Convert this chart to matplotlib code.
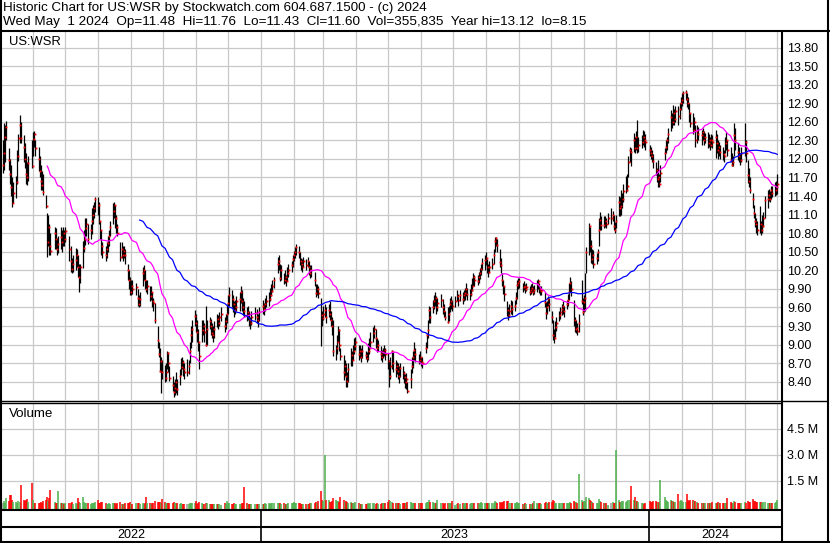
import numpy as np
import pandas as pd
import matplotlib
matplotlib.use("Agg")
import matplotlib.pyplot as plt
import matplotlib.dates as mdates
from matplotlib.lines import Line2D

# ---- data (one line per week, holidays removed) ----
holidays = ["2022-05-30", "2022-06-20", "2022-07-04", "2022-09-05", "2022-11-24", "2022-12-26",
            "2023-01-02", "2023-01-16", "2023-02-20", "2023-04-07", "2023-05-29", "2023-06-19",
            "2023-07-04", "2023-09-04", "2023-11-23", "2023-12-25", "2024-01-01", "2024-01-15",
            "2024-02-19", "2024-03-29"]

closes = [
    11.90, 12.10, 12.35, 12.52,
    11.98, 11.75, 11.55, 11.29, 11.45,
    11.62, 12.05, 12.34, 12.55, 12.34,
    12.20, 12.00, 11.75, 11.70, 11.93,
    11.88, 12.32, 12.40, 12.18,
    12.00, 11.80, 11.64, 11.58, 11.47,
    11.24, 10.65, 10.90, 10.60, 10.52,
    10.81, 10.70, 10.55, 10.62,
    10.74, 10.65, 10.80, 10.70, 10.83,
    10.55, 10.35, 10.22, 10.30,
    10.36, 10.45, 10.25, 10.10, 10.25,
    10.56, 10.70, 10.88, 10.95, 10.71,
    10.85, 10.99, 11.10, 11.20, 11.35,
    11.25, 10.99, 10.85, 10.60, 10.49,
    10.44, 10.55, 10.64, 10.75, 10.90,
    11.16, 11.25, 11.05, 10.90, 10.81,
    10.42, 10.55, 10.44, 10.52, 10.45,
    10.20, 10.05, 9.85, 9.95, 9.90,
    9.93, 9.75, 9.65, 9.74,
    10.15, 10.20, 10.05, 9.90, 9.95,
    9.78, 9.85, 9.70, 9.67, 9.40,
    9.08, 8.85, 8.58, 8.74, 8.55,
    8.46, 8.55, 8.86, 8.70, 8.46,
    8.35, 8.23, 8.30, 8.40, 8.28,
    8.50, 8.64, 8.72, 8.60, 8.55,
    8.55, 8.65, 8.90, 9.15, 9.25,
    9.47, 9.35, 9.20, 9.05, 8.82,
    9.24, 9.30, 9.20, 9.00, 9.25,
    9.38, 9.30, 9.18, 9.15, 9.25,
    9.41, 9.35, 9.44, 9.50,
    9.30, 9.38, 9.50, 9.67, 9.80,
    9.74, 9.65, 9.56, 9.60, 9.70,
    9.74, 9.85, 9.70, 9.60, 9.55,
    9.48, 9.52, 9.40, 9.35, 9.45,
    9.51, 9.45, 9.40, 9.52,
    9.62, 9.58, 9.65, 9.70,
    9.74, 9.80, 9.87, 9.95, 10.04,
    10.31, 10.35, 10.07, 10.20,
    10.04, 10.10, 10.02, 10.15, 10.21,
    10.28, 10.39, 10.45, 10.50, 10.58,
    10.49, 10.35, 10.30, 10.25, 10.35,
    10.29, 10.35, 10.25, 10.16, 10.20,
    10.05, 9.84, 9.90, 9.84,
    9.48, 9.43, 9.50, 9.56, 9.45,
    9.56, 9.50, 9.40, 9.30, 8.89,
    8.95, 9.05, 9.24, 9.00, 8.82,
    8.56, 8.65, 8.50, 8.42, 8.60,
    8.83, 8.75, 8.90, 8.98, 9.05,
    8.85, 8.90, 8.80, 8.90,
    8.83, 8.78, 8.89, 8.95, 9.05,
    9.18, 9.25, 9.10, 8.95, 9.00,
    8.85, 8.80, 8.88, 8.92, 8.85,
    8.73, 8.50, 8.65, 8.89, 8.70,
    8.60, 8.65, 8.58, 8.50, 8.62,
    8.54, 8.48, 8.40, 8.45, 8.25,
    8.45, 8.66, 8.80, 8.91, 8.85,
    8.75, 8.80, 8.72, 8.70,
    8.95, 9.15, 9.24, 9.56, 9.45,
    9.60, 9.70, 9.75, 9.60, 9.67,
    9.72, 9.60, 9.55, 9.45,
    9.37, 9.50, 9.65, 9.70, 9.62,
    9.70, 9.79, 9.72, 9.80,
    9.74, 9.80, 9.83, 9.90, 9.81,
    9.81, 9.88, 9.95, 10.10, 10.04,
    10.02, 10.10, 10.16, 10.22, 10.32,
    10.36, 10.40, 10.25, 10.18, 10.25,
    10.31, 10.45, 10.68, 10.72, 10.61,
    10.34, 10.28, 10.05, 9.95, 9.82,
    9.56, 9.48, 9.55, 9.62, 9.58,
    9.62, 9.75, 9.96, 10.00, 10.02,
    9.93, 9.95, 9.90, 9.93,
    9.85, 9.88, 9.92, 9.85, 9.88,
    9.98, 10.02, 9.90, 9.86, 9.88,
    9.69, 9.51, 9.60, 9.73, 9.65,
    9.45, 9.15, 9.10, 9.29, 9.35,
    9.48, 9.52, 9.57, 9.62, 9.55,
    9.66, 9.72, 9.85, 10.00, 9.90,
    9.40, 9.26, 9.27, 9.22, 9.35,
    9.71, 9.53, 9.69, 9.75, 10.49,
    10.91, 10.60, 10.39, 10.45, 10.30,
    10.40, 10.49, 10.85, 11.01, 10.94,
    10.93, 11.00, 10.95, 11.05,
    11.05, 11.10, 10.91, 10.85, 11.00,
    11.31, 11.20, 11.24, 11.35, 11.48,
    11.50, 11.57, 11.95, 12.15, 12.12,
    12.31, 12.18, 12.35, 12.17, 12.22,
    12.28, 12.35, 12.30, 12.28,
    12.14, 12.10, 12.05, 11.96,
    11.82, 11.67, 11.71, 11.60, 11.78,
    12.10, 12.20, 12.31, 12.40,
    12.68, 12.60, 12.74, 12.65, 12.77,
    12.70, 12.80, 12.90, 12.95, 13.06,
    13.08, 12.97, 12.90, 12.74, 12.58,
    12.47, 12.60, 12.30, 12.45, 12.40,
    12.38, 12.44, 12.31, 12.35,
    12.26, 12.31, 12.22, 12.31, 12.28,
    12.36, 12.25, 12.14, 12.20, 12.11,
    12.08, 12.05, 12.26, 12.30, 12.15,
    11.98, 11.90, 11.95, 12.39, 12.30,
    12.11, 12.05, 11.98, 12.10,
    12.27, 12.10, 11.74, 11.65, 11.50,
    11.35, 11.12, 11.00, 10.95, 10.85,
    10.95, 10.85, 10.91, 11.05, 11.34,
    11.35, 11.42, 11.35, 11.50, 11.45,
    11.50, 11.55, 11.60,
]

highs = [
    12.30, 12.58, 12.55, 12.62,
    12.17, 12.00, 11.90, 11.70, 11.62,
    11.72, 12.15, 12.40, 12.71, 12.60,
    12.39, 12.25, 12.10, 11.95, 12.05,
    12.30, 12.44, 12.45, 12.30,
    12.20, 12.05, 11.90, 11.80, 11.75,
    11.42, 11.13, 11.10, 10.95, 10.80,
    10.90, 10.88, 10.72, 10.75,
    10.90, 10.85, 10.90, 10.85, 10.90,
    10.75, 10.60, 10.40, 10.45,
    10.56, 10.55, 10.45, 10.30, 10.30,
    10.67, 10.85, 11.04, 11.05, 10.95,
    10.95, 11.21, 11.25, 11.30, 11.39,
    11.39, 11.30, 11.00, 10.85, 10.65,
    10.60, 10.65, 10.75, 10.85, 11.00,
    11.29, 11.30, 11.25, 11.10, 10.95,
    10.65, 10.65, 10.60, 10.60, 10.55,
    10.30, 10.20, 10.10, 10.05, 10.05,
    10.00, 9.90, 9.80, 9.85,
    10.25, 10.28, 10.20, 10.05, 10.05,
    9.95, 9.95, 9.85, 9.75, 9.68,
    9.30, 9.05, 8.95, 8.80, 8.75,
    8.67, 8.70, 8.90, 8.88, 8.65,
    8.50, 8.40, 8.45, 8.55, 8.45,
    8.60, 8.79, 8.80, 8.75, 8.70,
    8.77, 8.75, 9.05, 9.30, 9.40,
    9.56, 9.50, 9.40, 9.25, 9.03,
    9.40, 9.40, 9.35, 9.62, 9.40,
    9.45, 9.42, 9.35, 9.30, 9.38,
    9.50, 9.48, 9.52, 9.60,
    9.45, 9.50, 9.65, 9.80, 9.93,
    9.88, 9.80, 9.70, 9.72, 9.78,
    9.85, 9.95, 9.88, 9.75, 9.70,
    9.60, 9.62, 9.55, 9.45, 9.55,
    9.60, 9.58, 9.50, 9.60,
    9.72, 9.68, 9.75, 9.80,
    9.85, 9.92, 9.98, 10.05, 10.10,
    10.42, 10.45, 10.30, 10.28,
    10.15, 10.20, 10.12, 10.25, 10.30,
    10.35, 10.45, 10.52, 10.58, 10.63,
    10.60, 10.50, 10.40, 10.38, 10.42,
    10.38, 10.42, 10.35, 10.28, 10.28,
    10.18, 9.98, 9.98, 9.95,
    9.75, 9.55, 9.62, 9.65, 9.60,
    9.65, 9.70, 9.55, 9.45, 9.40,
    9.00, 9.15, 9.30, 9.25, 8.95,
    8.83, 8.75, 8.70, 8.55, 8.70,
    8.95, 8.90, 9.00, 9.10, 9.12,
    9.00, 9.00, 8.95, 9.00,
    8.90, 8.88, 9.02, 9.10, 9.20,
    9.28, 9.31, 9.25, 9.10, 9.08,
    8.98, 8.92, 8.95, 9.00, 8.95,
    8.87, 8.75, 8.80, 8.92, 8.90,
    8.75, 8.72, 8.70, 8.65, 8.70,
    8.65, 8.58, 8.52, 8.54, 8.40,
    8.60, 8.80, 8.89, 9.05, 8.95,
    8.85, 8.90, 8.80, 8.80,
    9.05, 9.18, 9.40, 9.62, 9.60,
    9.72, 9.80, 9.85, 9.78, 9.76,
    9.82, 9.74, 9.65, 9.55,
    9.60, 9.62, 9.75, 9.78, 9.72,
    9.78, 9.88, 9.82, 9.88,
    9.85, 9.88, 9.92, 10.00, 9.92,
    9.90, 9.98, 10.08, 10.16, 10.12,
    10.12, 10.18, 10.24, 10.30, 10.40,
    10.45, 10.50, 10.38, 10.30, 10.35,
    10.40, 10.55, 10.74, 10.74, 10.70,
    10.55, 10.40, 10.15, 10.05, 9.95,
    9.70, 9.60, 9.65, 9.72, 9.70,
    9.72, 9.85, 10.05, 10.07, 10.08,
    10.00, 10.02, 9.98, 10.00,
    9.95, 9.98, 10.00, 9.95, 9.96,
    10.04, 10.06, 10.00, 9.95, 9.95,
    9.85, 9.69, 9.70, 9.78, 9.75,
    9.55, 9.40, 9.25, 9.38, 9.45,
    9.55, 9.60, 9.66, 9.70, 9.62,
    9.72, 9.82, 10.00, 10.10, 10.02,
    9.72, 9.45, 9.40, 9.35, 9.50,
    10.04, 9.75, 9.80, 10.15, 10.58,
    10.96, 10.90, 10.69, 10.55, 10.53,
    10.48, 10.55, 11.05, 11.15, 11.08,
    11.07, 11.08, 11.05, 11.12,
    11.21, 11.16, 11.10, 10.98, 11.10,
    11.40, 11.38, 11.50, 11.45, 11.60,
    11.72, 11.75, 12.05, 12.20, 12.18,
    12.42, 12.35, 12.45, 12.63, 12.35,
    12.38, 12.47, 12.45, 12.40,
    12.23, 12.20, 12.15, 12.08,
    11.95, 11.85, 11.98, 11.75, 11.90,
    12.18, 12.30, 12.36, 12.50,
    12.79, 12.75, 12.87, 12.80, 12.85,
    12.85, 12.90, 13.00, 13.06, 13.10,
    13.12, 13.06, 13.00, 12.90, 12.75,
    12.74, 12.68, 12.55, 12.55, 12.52,
    12.47, 12.50, 12.45, 12.42,
    12.43, 12.40, 12.35, 12.40, 12.38,
    12.47, 12.40, 12.30, 12.28, 12.22,
    12.20, 12.15, 12.35, 12.43, 12.30,
    12.20, 12.09, 12.05, 12.58, 12.50,
    12.25, 12.20, 12.10, 12.20,
    12.58, 12.30, 11.98, 11.85, 11.70,
    11.45, 11.26, 11.12, 11.05, 11.00,
    11.24, 11.00, 11.10, 11.15, 11.40,
    11.50, 11.52, 11.48, 11.57, 11.56,
    11.62, 11.65, 11.76,
]

lows = [
    11.78, 11.82, 11.95, 12.30,
    11.82, 11.60, 11.40, 11.23, 11.28,
    11.37, 11.60, 11.96, 12.25, 12.25,
    11.95, 11.85, 11.60, 11.58, 11.65,
    11.85, 12.05, 12.20, 12.05,
    11.80, 11.70, 11.50, 11.50, 11.42,
    11.20, 10.42, 10.60, 10.45, 10.45,
    10.55, 10.55, 10.45, 10.48,
    10.55, 10.50, 10.60, 10.60, 10.65,
    10.35, 10.18, 10.15, 10.18,
    10.20, 10.25, 10.10, 9.85, 10.00,
    10.24, 10.50, 10.61, 10.75, 10.62,
    10.70, 10.78, 10.95, 11.05, 11.15,
    11.10, 10.95, 10.70, 10.45, 10.40,
    10.35, 10.40, 10.50, 10.60, 10.75,
    10.95, 11.05, 10.88, 10.80, 10.75,
    10.35, 10.40, 10.35, 10.40, 10.30,
    10.05, 9.90, 9.80, 9.80, 9.82,
    9.80, 9.62, 9.60, 9.62,
    9.95, 10.05, 9.90, 9.85, 9.82,
    9.70, 9.72, 9.60, 9.55, 9.35,
    8.95, 8.80, 8.55, 8.22, 8.45,
    8.39, 8.42, 8.60, 8.55, 8.42,
    8.25, 8.16, 8.18, 8.22, 8.18,
    8.35, 8.51, 8.60, 8.50, 8.45,
    8.50, 8.53, 8.70, 8.95, 9.05,
    9.30, 9.20, 9.05, 8.90, 8.60,
    9.05, 9.15, 9.05, 8.97, 9.00,
    9.25, 9.15, 9.10, 9.05, 9.10,
    9.28, 9.25, 9.30, 9.38,
    9.20, 9.25, 9.35, 9.50, 9.62,
    9.60, 9.52, 9.45, 9.50, 9.55,
    9.55, 9.68, 9.55, 9.48, 9.45,
    9.38, 9.40, 9.30, 9.25, 9.32,
    9.40, 9.35, 9.28, 9.38,
    9.50, 9.48, 9.55, 9.60,
    9.62, 9.70, 9.78, 9.85, 9.92,
    10.15, 10.20, 10.02, 10.05,
    9.98, 10.00, 9.95, 10.02, 10.10,
    10.18, 10.25, 10.35, 10.40, 10.45,
    10.40, 10.28, 10.20, 10.18, 10.25,
    10.20, 10.25, 10.12, 10.08, 10.10,
    9.95, 9.77, 9.80, 9.75,
    8.97, 9.30, 9.40, 9.45, 9.35,
    9.45, 9.40, 9.30, 9.15, 8.81,
    8.75, 8.85, 9.05, 8.90, 8.75,
    8.43, 8.50, 8.32, 8.32, 8.40,
    8.65, 8.65, 8.75, 8.85, 8.92,
    8.75, 8.78, 8.72, 8.78,
    8.76, 8.72, 8.75, 8.85, 8.95,
    9.05, 9.10, 8.95, 8.88, 8.90,
    8.75, 8.72, 8.78, 8.82, 8.75,
    8.60, 8.32, 8.45, 8.60, 8.55,
    8.48, 8.52, 8.45, 8.38, 8.48,
    8.45, 8.38, 8.30, 8.28, 8.22,
    8.30, 8.54, 8.62, 8.75, 8.72,
    8.68, 8.70, 8.65, 8.62,
    8.86, 8.95, 9.10, 9.35, 9.35,
    9.51, 9.58, 9.62, 9.50, 9.55,
    9.60, 9.50, 9.45, 9.40,
    9.35, 9.38, 9.52, 9.58, 9.55,
    9.60, 9.70, 9.62, 9.70,
    9.65, 9.70, 9.72, 9.78, 9.72,
    9.72, 9.78, 9.86, 9.95, 9.95,
    9.96, 10.00, 10.06, 10.12, 10.20,
    10.20, 10.28, 10.15, 10.10, 10.15,
    10.22, 10.30, 10.50, 10.60, 10.50,
    10.25, 10.15, 9.95, 9.82, 9.70,
    9.46, 9.40, 9.45, 9.50, 9.48,
    9.55, 9.65, 9.74, 9.90, 9.92,
    9.85, 9.88, 9.84, 9.86,
    9.80, 9.82, 9.85, 9.80, 9.82,
    9.85, 9.90, 9.83, 9.80, 9.80,
    9.60, 9.42, 9.50, 9.62, 9.55,
    9.35, 9.08, 9.02, 9.12, 9.22,
    9.38, 9.42, 9.48, 9.50, 9.45,
    9.58, 9.62, 9.72, 9.85, 9.78,
    9.30, 9.20, 9.18, 9.15, 9.20,
    9.65, 9.48, 9.52, 9.55, 10.15,
    10.45, 10.50, 10.32, 10.30, 10.24,
    10.30, 10.35, 10.60, 10.85, 10.85,
    10.88, 10.90, 10.88, 10.95,
    10.95, 11.00, 10.85, 10.81, 10.88,
    11.07, 11.07, 11.10, 11.20, 11.30,
    11.45, 11.48, 11.70, 11.95, 11.88,
    12.12, 12.10, 12.15, 12.10, 12.12,
    12.18, 12.23, 12.20, 12.15,
    12.04, 12.00, 11.95, 11.85,
    11.74, 11.63, 11.55, 11.55, 11.62,
    11.98, 12.09, 12.15, 12.25,
    12.45, 12.50, 12.55, 12.55, 12.60,
    12.55, 12.65, 12.79, 12.85, 12.90,
    12.95, 12.84, 12.80, 12.60, 12.52,
    12.40, 12.45, 12.20, 12.25, 12.30,
    12.23, 12.30, 12.22, 12.25,
    12.18, 12.20, 12.15, 12.20, 12.18,
    12.02, 12.10, 12.00, 12.05, 12.00,
    11.98, 11.95, 12.10, 12.15, 12.05,
    11.95, 11.88, 11.88, 12.04, 12.15,
    11.98, 11.95, 11.90, 11.95,
    12.04, 11.95, 11.61, 11.55, 11.45,
    11.20, 11.04, 10.90, 10.80, 10.77,
    10.80, 10.77, 10.80, 10.90, 11.05,
    11.20, 11.32, 11.30, 11.36, 11.38,
    11.40, 11.42, 11.43,
]

# daily volume, thousands of shares
volumes = [
    200, 310, 180, 470,
    300, 660, 650, 380, 250,
    280, 220, 300, 260, 1240,
    350, 300, 380, 420, 240,
    1340, 400, 230, 200,
    230, 190, 260, 210, 290,
    350, 560, 300, 500, 950,
    250, 200, 220, 890,
    230, 180, 210, 170, 200,
    190, 230, 250, 170,
    200, 160, 470, 280, 190,
    520, 250, 230, 210, 180,
    160, 200, 190, 220, 250,
    400, 230, 210, 260, 240,
    200, 170, 150, 180, 160,
    210, 180, 190, 170, 200,
    250, 170, 160, 140, 180,
    230, 200, 250, 150, 160,
    180, 210, 190, 150,
    200, 170, 210, 540, 180,
    190, 160, 200, 230, 330,
    280, 250, 270, 210, 450,
    250, 200, 230, 190, 210,
    220, 260, 190, 180, 200,
    170, 190, 150, 160, 140,
    150, 160, 190, 210, 180,
    200, 340, 170, 190, 250,
    210, 160, 150, 230, 190,
    170, 140, 160, 150, 130,
    150, 120, 130, 80,
    180, 150, 340, 210, 190,
    170, 160, 180, 150, 140,
    150, 160, 180, 190, 1140,
    210, 150, 160, 140, 120,
    130, 150, 140, 160,
    170, 150, 180, 160,
    190, 170, 200, 180, 210,
    230, 190, 210, 170,
    180, 160, 170, 150, 190,
    200, 220, 250, 210, 230,
    190, 180, 160, 170, 150,
    170, 160, 150, 180, 200,
    230, 250, 210, 290,
    880, 400, 330, 2950, 350,
    370, 280, 250, 300, 470,
    350, 300, 330, 250, 550,
    370, 250, 300, 280, 230,
    250, 200, 190, 220, 250,
    180, 160, 170, 140,
    150, 160, 180, 170, 190,
    200, 180, 170, 190, 160,
    170, 190, 210, 180, 200,
    250, 370, 300, 270, 230,
    210, 190, 180, 200, 170,
    190, 200, 230, 180, 270,
    250, 230, 210, 220, 180,
    200, 180, 190, 210,
    230, 250, 260, 400, 280,
    240, 210, 230, 200, 370,
    190, 180, 170, 230,
    210, 180, 200, 190, 330,
    100, 170, 180, 160,
    180, 170, 190, 200, 210,
    160, 180, 200, 230, 190,
    180, 170, 210, 250, 230,
    220, 200, 210, 190, 180,
    200, 230, 300, 250, 220,
    270, 230, 250, 280, 310,
    330, 300, 230, 210, 190,
    180, 200, 250, 210, 190,
    170, 160, 180, 150,
    160, 150, 170, 180, 300,
    190, 170, 180, 200, 160,
    230, 280, 210, 190, 250,
    250, 350, 310, 230, 210,
    220, 200, 210, 190, 180,
    200, 210, 230, 250, 220,
    330, 280, 250, 230, 1870,
    370, 250, 300, 330, 570,
    470, 350, 300, 250, 230,
    220, 210, 450, 330, 250,
    210, 200, 180, 100,
    230, 250, 210, 220, 3260,
    350, 270, 250, 300, 330,
    280, 300, 350, 400, 1180,
    350, 520, 300, 330, 250,
    200, 180, 170, 190,
    330, 250, 270, 300,
    300, 250, 230, 270, 1530,
    570, 350, 300, 280,
    370, 300, 330, 250, 280,
    720, 330, 350, 300, 280,
    250, 720, 350, 330, 370,
    350, 300, 330, 250, 230,
    210, 200, 220, 190,
    200, 190, 180, 210, 250,
    230, 210, 250, 200, 220,
    210, 200, 190, 220, 500,
    250, 230, 200, 300, 250,
    210, 190, 200, 180,
    250, 230, 300, 280, 270,
    440, 330, 300, 250, 270,
    280, 250, 230, 240, 260,
    230, 210, 200, 220, 190,
    210, 250, 356,
]

price_ticks = [8.40, 8.70, 9.00, 9.30, 9.60, 9.90, 10.20, 10.50, 10.80, 11.10,
               11.40, 11.70, 12.00, 12.30, 12.60, 12.90, 13.20, 13.50, 13.80]
volume_ticks = [1.5, 3.0, 4.5]
year_labels = ["2022", "2023", "2024"]
header1 = "Historic Chart for US:WSR by Stockwatch.com 604.687.1500 - (c) 2024"
header2 = "Wed May  1 2024  Op=11.48  Hi=11.76  Lo=11.43  Cl=11.60  Vol=355,835  Year hi=13.12  lo=8.15"

# ---- prepare ----
dates = pd.bdate_range("2022-05-03", "2024-05-01")
dates = dates[~dates.isin(pd.to_datetime(holidays))]
n = min(len(dates), len(closes), len(highs), len(lows), len(volumes))
dates = dates[:n]
c = pd.Series(closes[:n], index=dates)
hi = np.array(highs[:n])
lo = np.array(lows[:n])
vol = np.array(volumes[:n]) / 1000.0
ma30 = c.rolling(30).mean()
ma90 = c.rolling(90).mean()

diff = c.diff().values
vcolors = ["#9a9a9a" if (np.isnan(d) or d == 0) else ("#4cb04c" if d > 0 else "#ff0000") for d in diff]

W, H = 830, 543
plt.rcParams["font.family"] = ["Liberation Sans", "DejaVu Sans"]
fig = plt.figure(figsize=(W / 100, H / 100), dpi=100)


def fx(px):
    return px / W


def fy(py):
    return 1 - py / H


x0 = mdates.date2num(pd.Timestamp("2022-05-02 12:00"))
x1 = x0 + 733
grid_c = "#c8c8c8"
fs = 9

# price panel
ax_p = fig.add_axes([fx(2), fy(400), fx(781) - fx(2), fy(31) - fy(400)])
ax_p.set_xlim(x0, x1)
ax_p.set_ylim(8.105, 14.067)
ax_p.vlines(dates, lo, hi, color="black", lw=0.9, zorder=3)
ax_p.plot(dates + pd.Timedelta(hours=10), c.values, ls="none", marker="s", ms=1.3,
          mfc="#ff0000", mec="none", zorder=4)
ax_p.plot(dates, ma30.values, color="#ff00ff", lw=0.9, zorder=5)
ax_p.plot(dates, ma90.values, color="#0000ff", lw=0.9, zorder=5)
ax_p.set_yticks(price_ticks)
ax_p.set_yticklabels([f"{t:.2f}" for t in price_ticks])
ax_p.yaxis.tick_right()
ax_p.tick_params(axis="y", length=0, pad=4.5, labelsize=fs)
ax_p.xaxis.set_major_locator(mdates.MonthLocator())
ax_p.tick_params(axis="x", length=0, labelbottom=False)
ax_p.grid(True, color=grid_c, lw=0.9)
for s in ax_p.spines.values():
    s.set_visible(False)

# volume panel
ax_v = fig.add_axes([fx(2), fy(509.5), fx(781) - fx(2), fy(402.5) - fy(509.5)])
ax_v.set_xlim(x0, x1)
ax_v.set_ylim(-0.173, 6.0)
ax_v.set_axisbelow(True)
ax_v.vlines(dates, -0.173, vol, colors=vcolors, lw=1.1)
ax_v.set_yticks(volume_ticks)
ax_v.set_yticklabels([f"{t:.1f} M" for t in volume_ticks])
ax_v.yaxis.tick_right()
ax_v.tick_params(axis="y", length=0, pad=4.5, labelsize=fs)
ax_v.xaxis.set_major_locator(mdates.MonthLocator())
ax_v.tick_params(axis="x", length=0, labelbottom=False)
ax_v.grid(True, color=grid_c, lw=0.9)
for s in ax_v.spines.values():
    s.set_visible(False)

# date strip
ax_d = fig.add_axes([fx(2), fy(541.5), fx(781) - fx(2), fy(509.5) - fy(541.5)])
ax_d.set_xlim(x0, x1)
ax_d.set_ylim(0, 1)
ax_d.axis("off")
bounds = [x0] + [mdates.date2num(pd.Timestamp(f"{y}-01-01")) for y in (2023, 2024)] + [x1]
for b in bounds[1:-1]:
    ax_d.plot([b, b], [0, 1], color="black", lw=1.2)
for i, lab in enumerate(year_labels):
    ax_d.text((bounds[i] + bounds[i + 1]) / 2, 0.2, lab, ha="center", va="center", fontsize=fs)

# labels and header
fig.text(fx(3), fy(8.5), header1, fontsize=9.6, va="center", ha="left")
fig.text(fx(3), fy(22.5), header2, fontsize=9.7, va="center", ha="left")
fig.text(fx(9), fy(42), "US:WSR", fontsize=9.4, va="center", ha="left")
fig.text(fx(9), fy(414), "Volume", fontsize=9.6, va="center", ha="left")


# frame lines in pixel coordinates
def line(xa, ya, xb, yb, lw):
    fig.add_artist(Line2D([fx(xa), fx(xb)], [fy(ya), fy(yb)], color="black", lw=lw,
                          transform=fig.transFigure, solid_capstyle="butt"))


line(1, 0, 1, 543, 1.5)
line(828, 0, 828, 543, 1.5)
line(0, 30.5, 830, 30.5, 1.5)
line(781.5, 30.5, 781.5, 542, 1.5)
line(0, 400.5, 828, 400.5, 1.0)
line(0, 402.8, 781, 402.8, 1.0)
line(0, 509.5, 781, 509.5, 1.5)
line(0, 526.5, 781, 526.5, 1.5)
line(0, 541.7, 830, 541.7, 1.5)

fig.savefig("out.png", dpi=100)
